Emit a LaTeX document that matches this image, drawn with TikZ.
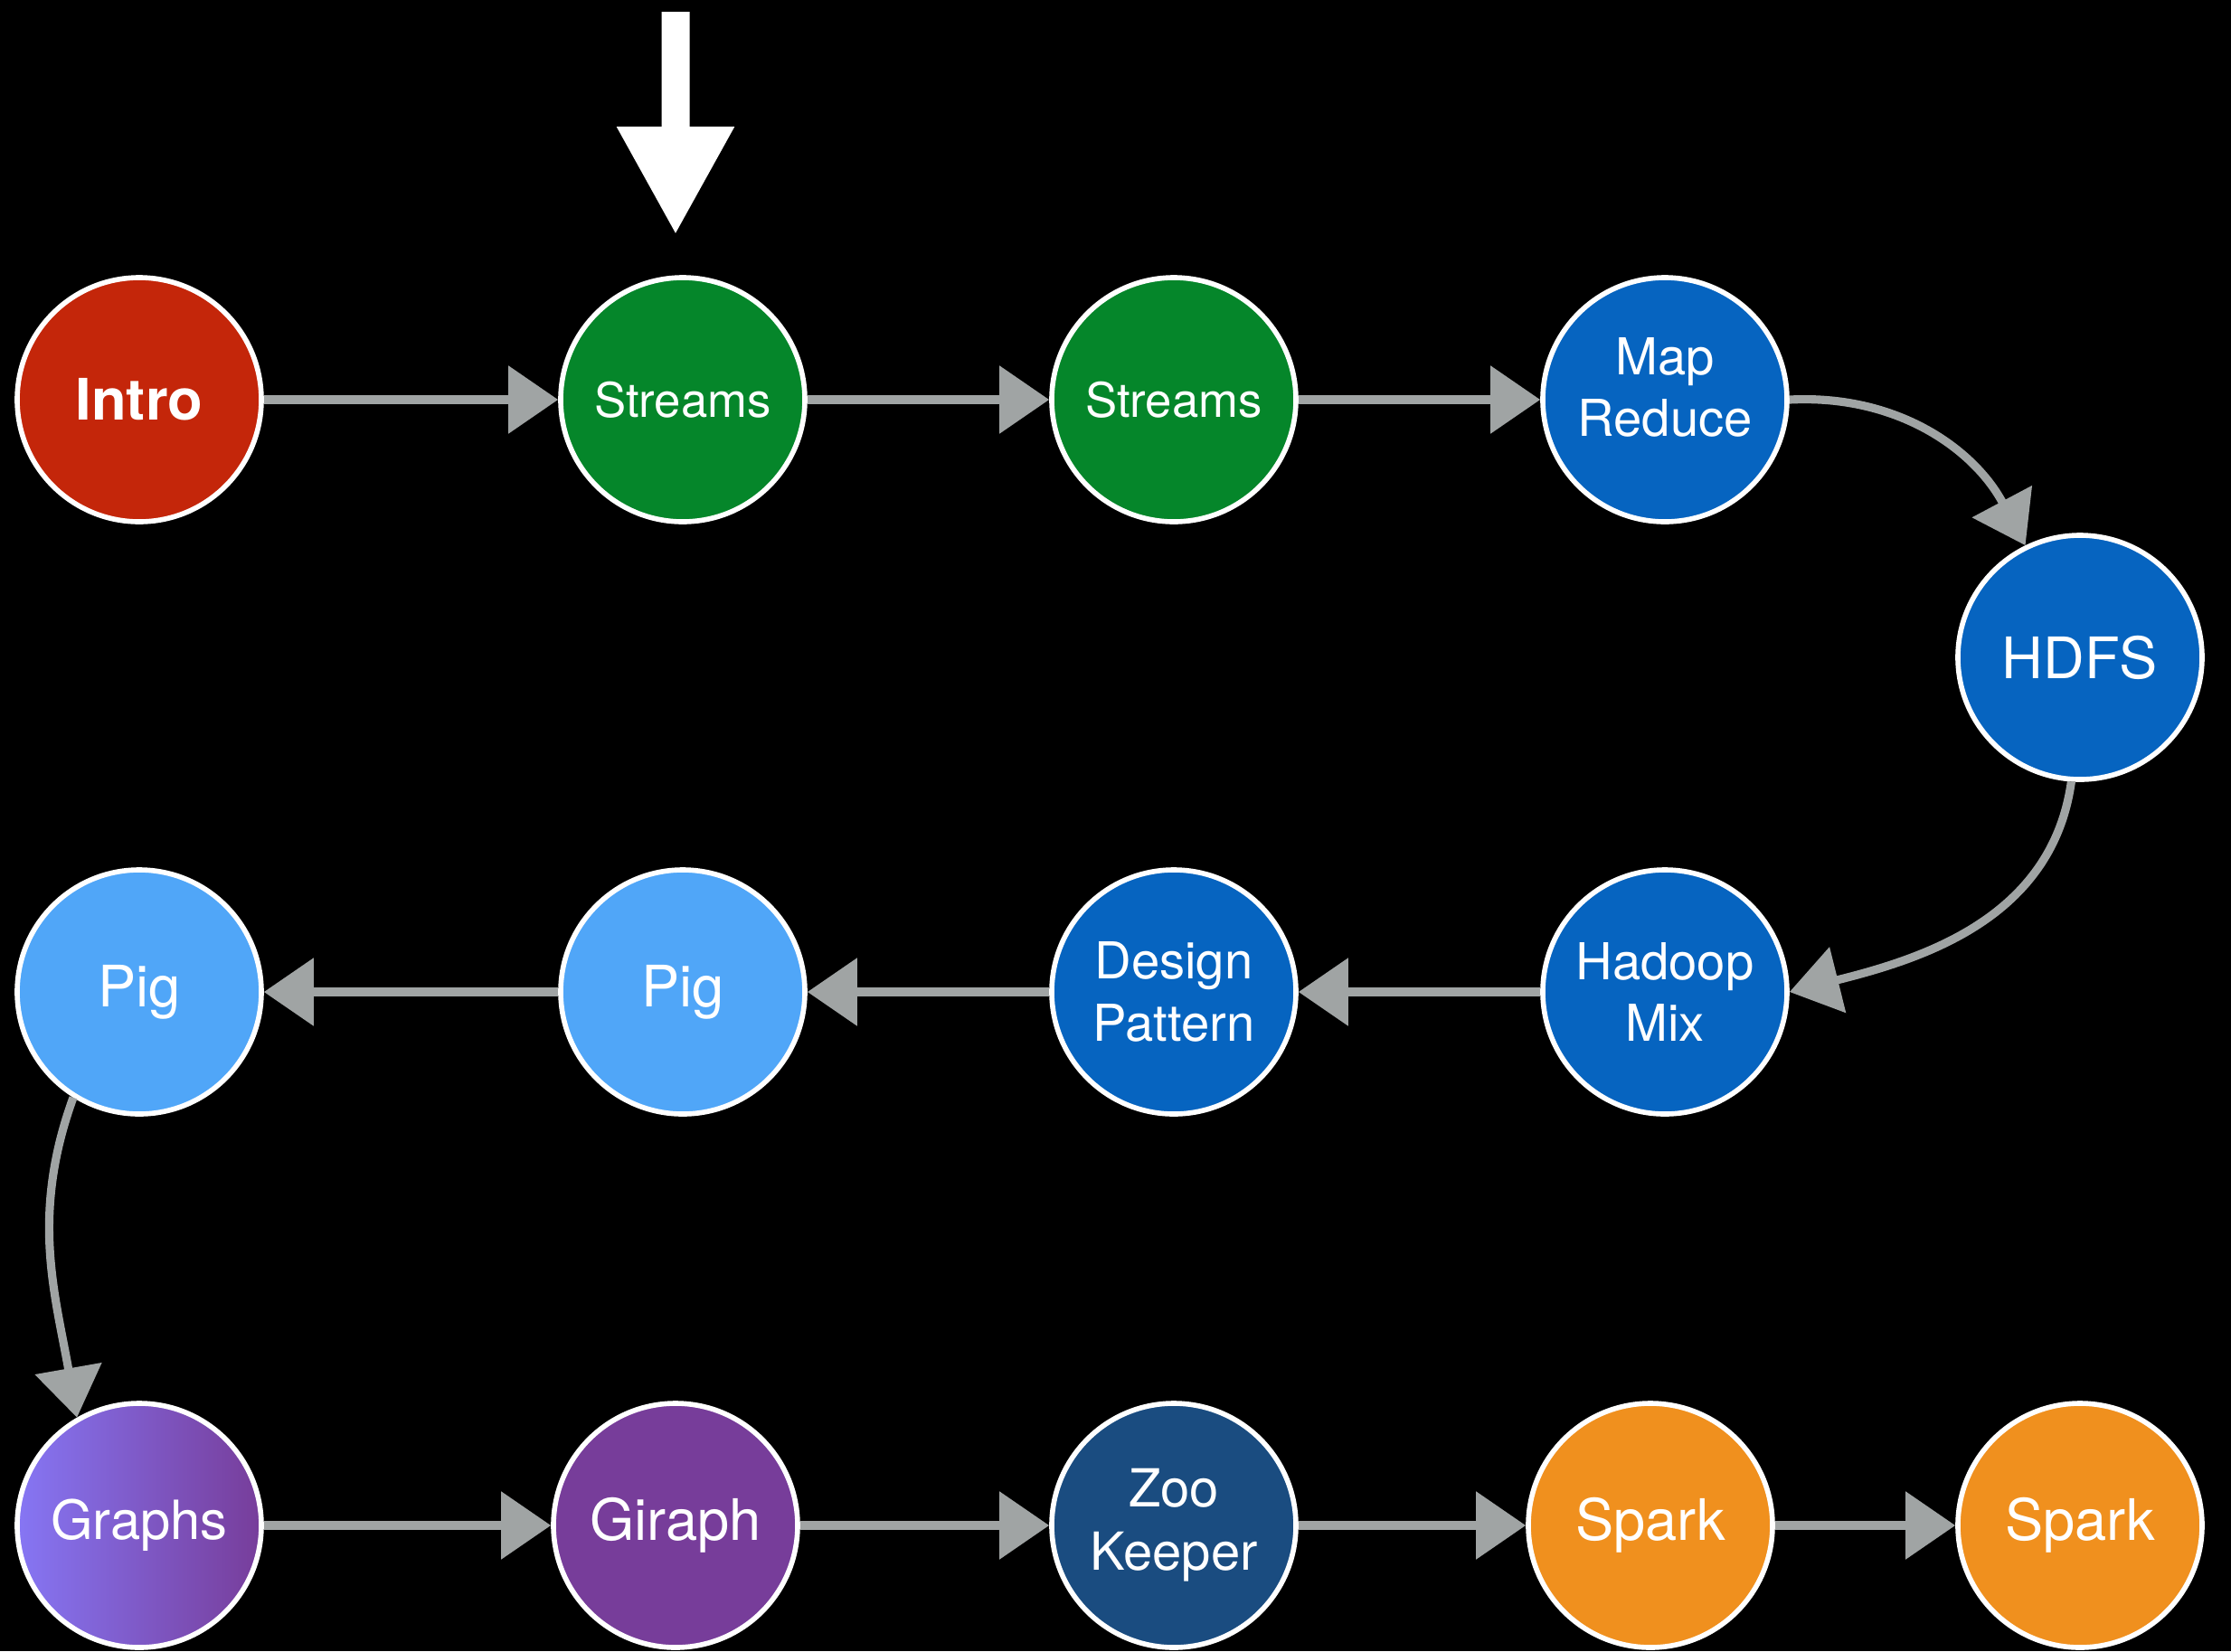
\documentclass[tikz,border=0pt]{standalone}
\usepackage{fontspec}
\setsansfont{TeX Gyre Heros}
\usetikzlibrary{arrows.meta, positioning}
\definecolor{introred}{HTML}{C4260A}
\definecolor{streamgreen}{HTML}{05862A}
\definecolor{hadoopblue}{HTML}{0664C0}
\definecolor{pigblue}{HTML}{50A6F8}
\definecolor{graphlight}{HTML}{8676F4}
\definecolor{graphpurple}{HTML}{773D9A}
\definecolor{zoonavy}{HTML}{1A4C80}
\definecolor{sparkorange}{HTML}{F0901E}
\definecolor{chalkgray}{HTML}{A0A4A4}
\tikzset{
	topicnode/.style={
			shape=circle,
			draw=white,
			line width=1.6pt,
			minimum size=27mm,
			inner sep=0pt,
			align=center,
			text=white,
			font=\sffamily\fontsize{16}{19.5}\selectfont
		},
	bigtext/.style={
			font=\sffamily\fontsize{18}{21}\selectfont
		},
	flowarrow/.style={
			draw=chalkgray,
			line width=2.6pt,
			-{Triangle[length=5.5mm, width=7.3mm]}
		}
}
\begin{document}
\begin{tikzpicture}
		\fill[black] (0,0) rectangle (24.67,-18.26);
		\useasboundingbox (0,0) rectangle (24.67,-18.26);

		% first row
		\node[topicnode, fill=introred, bigtext] (intro) at (1.54,-4.42) {\textbf{Intro}};
		\node[topicnode, fill=streamgreen, font=\sffamily\fontsize{15}{18}\selectfont] (streams1) at (7.55,-4.42) {Streams};
		\node[topicnode, fill=streamgreen, font=\sffamily\fontsize{15}{18}\selectfont] (streams2) at (12.98,-4.42) {Streams};
		\node[topicnode, fill=hadoopblue, text depth=2.8mm] (mapred) at (18.41,-4.42) {Map\\Reduce};
		\node[topicnode, fill=hadoopblue, bigtext] (hdfs) at (23.00,-7.27) {HDFS};

		% second row
		\node[topicnode, fill=hadoopblue] (hadoopmix) at (18.41,-10.97) {Hadoop\\Mix};
		\node[topicnode, fill=hadoopblue] (design) at (12.98,-10.97) {Design\\Pattern};
		\node[topicnode, fill=pigblue, bigtext] (pig2) at (7.55,-10.97) {Pig};
		\node[topicnode, fill=pigblue, bigtext] (pig1) at (1.54,-10.97) {Pig};

		% third row
		\node[topicnode, left color=graphlight, right color=graphpurple, font=\sffamily\fontsize{17}{20}\selectfont] (graphs) at (1.54,-16.87) {Graphs};
		\node[topicnode, fill=graphpurple, bigtext] (giraph) at (7.47,-16.87) {Giraph};
		\node[topicnode, fill=zoonavy, font=\sffamily\fontsize{16.5}{20}\selectfont] (zoo) at (12.98,-16.87) {Zoo\\Keeper};
		\node[topicnode, fill=sparkorange, bigtext] (spark1) at (18.25,-16.87) {Spark};
		\node[topicnode, fill=sparkorange, bigtext] (spark2) at (23.00,-16.87) {Spark};

		% you are here
		\coordinate (ptrtop) at (7.47,-0.13);
		\draw[white, line width=3.1mm, -{Triangle[length=12mm, width=12.1mm]}] (ptrtop) -- ([xshift=-0.8mm, yshift=4.4mm]streams1.north);

		\draw[flowarrow] (intro) -- (streams1);
		\draw[flowarrow] (streams1) -- (streams2);
		\draw[flowarrow] (streams2) -- (mapred);
		\draw[flowarrow] (mapred.east) to[out=3, in=118] (hdfs.116);
		\draw[flowarrow] (hdfs.266) to[out=-98, in=14] (hadoopmix.east);
		\draw[flowarrow] (hadoopmix) -- (design);
		\draw[flowarrow] (design) -- (pig2);
		\draw[flowarrow] (pig2) -- (pig1);
		\draw[flowarrow] (pig1.238) to[out=-110, in=100] (graphs.120);
		\draw[flowarrow] (graphs) -- (giraph);
		\draw[flowarrow] (giraph) -- (zoo);
		\draw[flowarrow] (zoo) -- (spark1);
		\draw[flowarrow] (spark1) -- (spark2);

\end{tikzpicture}
\end{document}
